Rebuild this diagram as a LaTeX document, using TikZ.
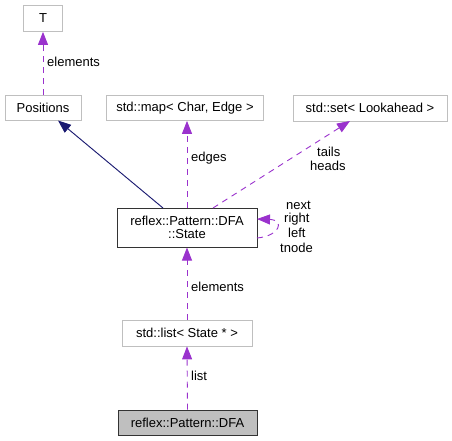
\documentclass[tikz,border=0pt]{standalone}
\usepackage{fontspec}
\setmainfont{Liberation Sans}
\usetikzlibrary{arrows.meta}
\definecolor{purp}{HTML}{9A32CD}
\definecolor{navyb}{HTML}{191970}
\definecolor{boxgray}{HTML}{BFBFBF}
\tikzset{
  gbox/.style={draw=boxgray, line width=0.8pt, inner sep=0pt, font=\fontsize{13}{12}\selectfont, text=black},
  bbox/.style={draw=black!80, line width=1pt, inner sep=0pt, font=\fontsize{13}{12.5}\selectfont, align=center},
  usage/.style={draw=purp, dash pattern=on 6pt off 5pt, line width=0.9pt, -{Triangle[length=13pt,width=10pt,fill=purp]}},
  inherit/.style={draw=navyb, line width=0.9pt, -{Triangle[length=13pt,width=10pt,fill=navyb]}},
  lbl/.style={font=\fontsize{13}{12}\selectfont, inner sep=0pt, anchor=west},
}
\begin{document}
\begin{tikzpicture}[x=1pt,y=-1pt]
\useasboundingbox (0,0) rectangle (452,441);
\node[gbox, minimum width=39pt, minimum height=26pt] (T) at (43,18.5) {T};
\node[gbox, minimum width=76pt, minimum height=25pt] (pos) at (43,108) {Positions};
\node[gbox, minimum width=157pt, minimum height=25pt] (map) at (185,108) {std::map< Char, Edge >};
\node[gbox, minimum width=154pt, minimum height=26pt] (set) at (370,108) {std::set< Lookahead >};
\node[bbox, minimum width=140pt, minimum height=39pt] (st) at (187,227.5) {reflex::Pattern::DFA\\::State};
\node[gbox, minimum width=130pt, minimum height=26pt] (lst) at (187,333) {std::list< State * >};
\node[bbox, fill=boxgray, minimum width=139pt, minimum height=25pt] (dfa) at (187.5,422.5) {reflex::Pattern::DFA};

\coordinate (stPos) at (163,208);
\coordinate (stTail) at (213,208);
\coordinate (loopA) at (257,238);
\coordinate (loopB) at (257,219);
\draw[usage] (pos.north) -- (T.south);
\draw[inherit] (stPos) -- (58,120.5);
\draw[usage] (st.north) -- (map.south -| st.north);
\draw[usage] (stTail) -- (350,121);
\draw[usage] (lst.north) -- (st.south);
\draw[usage] (dfa.north) -- (lst.south);
\draw[usage] (loopA) .. controls (280,236) and (285,220) .. (loopB);

\node[lbl] at (47,62) {elements};
\node[lbl] at (191,158) {edges};
\node[lbl] at (317,152) {tails};
\node[lbl] at (310,166) {heads};
\node[lbl] at (286,205) {next};
\node[lbl] at (284,219) {right};
\node[lbl] at (288,233) {left};
\node[lbl] at (280,248) {tnode};
\node[lbl] at (191,287) {elements};
\node[lbl] at (191,376) {list};
\end{tikzpicture}
\end{document}
